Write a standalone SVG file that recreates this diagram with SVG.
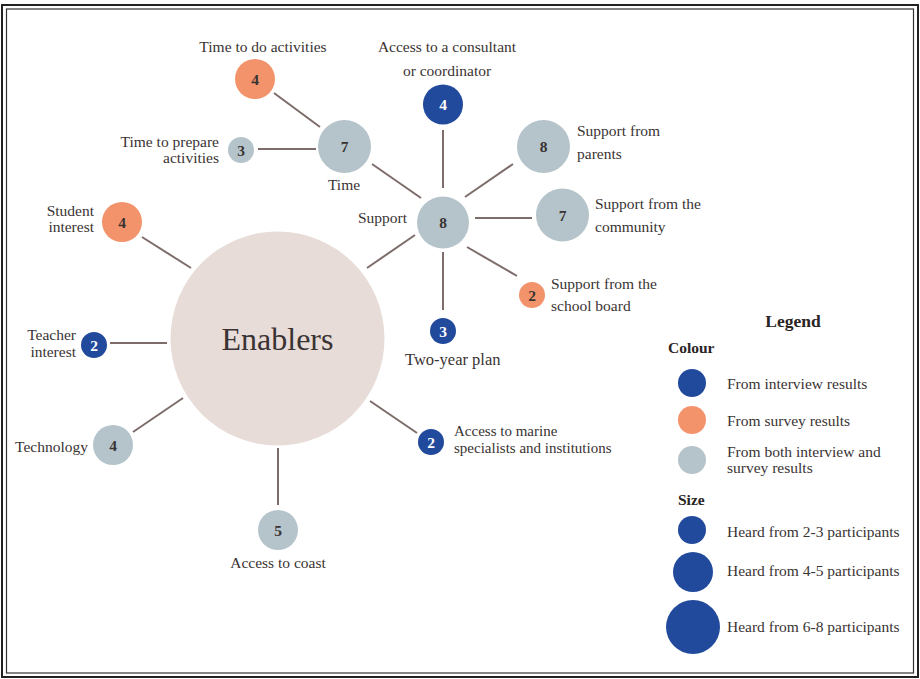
<svg xmlns="http://www.w3.org/2000/svg" width="920" height="679" viewBox="0 0 920 679">
<style>
text{font-family:"Liberation Serif","Times New Roman",serif;fill:#3a3333;font-size:15.5px}
.c{text-anchor:middle}
.e{text-anchor:end}
.n{text-anchor:middle;font-size:15.5px;font-weight:bold}
.w{fill:#ffffff}
.b{font-weight:bold;fill:#2a2424}
.blue{fill:#224a9c}
.orange{fill:#f2936b}
.grey{fill:#b5c4ca}
.edge{stroke:#7d6c6a;stroke-width:2;fill:none}
</style>
<rect x="0" y="0" width="920" height="679" fill="#ffffff"/>
<rect x="2" y="5" width="916" height="672" fill="none" stroke="#222" stroke-width="2"/>
<rect x="6.5" y="9" width="907" height="664" fill="none" stroke="#333" stroke-width="1.2"/>

<g id="connectors">
<line class="edge" x1="274" y1="93" x2="320" y2="127"/>
<line class="edge" x1="258" y1="149" x2="316" y2="149"/>
<line class="edge" x1="372" y1="164" x2="421" y2="198"/>
<line class="edge" x1="443" y1="130" x2="443" y2="188"/>
<line class="edge" x1="465" y1="197" x2="513" y2="164"/>
<line class="edge" x1="475" y1="218" x2="532" y2="218"/>
<line class="edge" x1="467" y1="247" x2="517" y2="276"/>
<line class="edge" x1="443" y1="252" x2="443" y2="310"/>
<line class="edge" x1="415" y1="235" x2="367" y2="268"/>
<line class="edge" x1="142" y1="237" x2="191" y2="268"/>
<line class="edge" x1="110" y1="343" x2="167" y2="343"/>
<line class="edge" x1="133" y1="432" x2="183" y2="398"/>
<line class="edge" x1="278" y1="448" x2="278" y2="505"/>
<line class="edge" x1="370" y1="401" x2="417" y2="433"/>
</g>

<g id="enablers">
<circle cx="277.5" cy="338.5" r="107" fill="#e8dcd8"/>
<text x="277.5" y="350" class="c" style="font-size:32px">Enablers</text>
</g>

<g id="time-to-do">
<circle cx="255" cy="79" r="20" class="orange"/>
<text x="255" y="84.5" class="n">4</text>
<text x="263" y="52" class="c">Time to do activities</text>
</g>

<g id="time">
<circle cx="344.5" cy="146.5" r="26.5" class="grey"/>
<text x="344.5" y="152" class="n">7</text>
<text x="344" y="190" class="c">Time</text>
</g>

<g id="time-prepare">
<circle cx="241" cy="150" r="13" class="grey"/>
<text x="241" y="155.5" class="n">3</text>
<text x="219" y="147" class="e">Time to prepare</text>
<text x="219" y="163" class="e">activities</text>
</g>

<g id="support">
<circle cx="443" cy="222.5" r="26" class="grey"/>
<text x="443" y="228" class="n">8</text>
<text x="407" y="223" class="e">Support</text>
</g>

<g id="consultant">
<circle cx="443" cy="104.5" r="20" class="blue"/>
<text x="443" y="110" class="n w">4</text>
<text x="447" y="52" class="c">Access to a consultant</text>
<text x="447" y="76" class="c">or coordinator</text>
</g>

<g id="parents">
<circle cx="543.5" cy="146.5" r="26.5" class="grey"/>
<text x="543.5" y="152" class="n">8</text>
<text x="577" y="136">Support from</text>
<text x="577" y="159">parents</text>
</g>

<g id="community">
<circle cx="562.5" cy="215" r="26.5" class="grey"/>
<text x="562.5" y="220.5" class="n">7</text>
<text x="595" y="209">Support from the</text>
<text x="595" y="232">community</text>
</g>

<g id="school-board">
<circle cx="532" cy="295" r="13" class="orange"/>
<text x="532" y="300.5" class="n">2</text>
<text x="551" y="289">Support from the</text>
<text x="551" y="311">school board</text>
</g>

<g id="two-year-plan">
<circle cx="443" cy="331" r="13" class="blue"/>
<text x="443" y="336.5" class="n w">3</text>
<text x="405" y="365" style="font-size:16.5px">Two-year plan</text>
</g>

<g id="student-interest">
<circle cx="122" cy="222" r="20" class="orange"/>
<text x="122" y="227.5" class="n">4</text>
<text x="94" y="216" class="e">Student</text>
<text x="94" y="232" class="e">interest</text>
</g>

<g id="teacher-interest">
<circle cx="94" cy="345" r="13" class="blue"/>
<text x="94" y="350.5" class="n w">2</text>
<text x="76" y="340" class="e">Teacher</text>
<text x="76" y="357" class="e">interest</text>
</g>

<g id="technology">
<circle cx="113" cy="445" r="20" class="grey"/>
<text x="113" y="450.5" class="n">4</text>
<text x="88" y="452" class="e">Technology</text>
</g>

<g id="coast">
<circle cx="278" cy="530" r="20" class="grey"/>
<text x="278" y="535.5" class="n">5</text>
<text x="278" y="568" class="c">Access to coast</text>
</g>

<g id="marine">
<circle cx="431" cy="442" r="13" class="blue"/>
<text x="431" y="447.5" class="n w">2</text>
<text x="454" y="436" style="font-size:15px">Access to marine</text>
<text x="454" y="453" style="font-size:15px">specialists and institutions</text>
</g>

<g id="legend">
<text x="793" y="327" class="c b" style="font-size:17.5px">Legend</text>
<text x="668" y="353" class="b">Colour</text>
<circle cx="692" cy="383" r="14" class="blue"/>
<text x="727" y="389">From interview results</text>
<circle cx="692" cy="420" r="14" class="orange"/>
<text x="727" y="426">From survey results</text>
<circle cx="692" cy="460" r="14" class="grey"/>
<text x="727" y="457">From both interview and</text>
<text x="727" y="473">survey results</text>
<text x="678" y="505" class="b">Size</text>
<circle cx="692" cy="530" r="14" class="blue"/>
<text x="727" y="537">Heard from 2-3 participants</text>
<circle cx="693" cy="572" r="20" class="blue"/>
<text x="727" y="576">Heard from 4-5 participants</text>
<circle cx="693" cy="627" r="27" class="blue"/>
<text x="727" y="632">Heard from 6-8 participants</text>
</g>
</svg>
